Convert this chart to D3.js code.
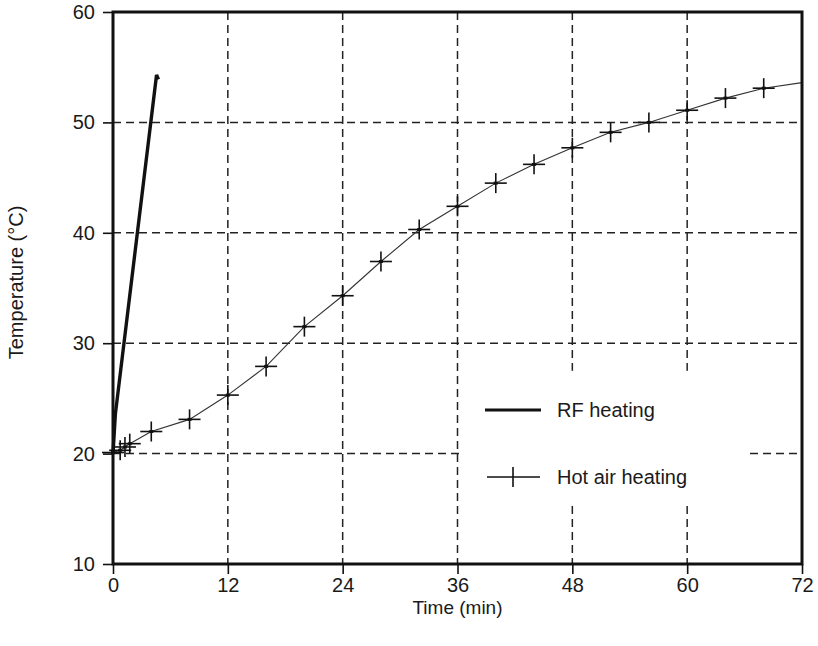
<!DOCTYPE html>
<html>
<head>
<meta charset="utf-8">
<script src="https://cdn.jsdelivr.net/npm/d3@7"></script>
<style>
  html, body { margin: 0; padding: 0; background: #fff; }
  svg { display: block; font-family: "Liberation Sans", Arial, Helvetica, sans-serif; }
</style>
</head>
<body>
<svg id="chart" width="818" height="646"></svg>
<script>
// ---- data ----
const xTicks = [0, 12, 24, 36, 48, 60, 72];
const yTicks = [10, 20, 30, 40, 50, 60];

const hotAirTime = [0, 0.75, 1.25, 1.75, 4, 8, 12, 16, 20, 24, 28, 32, 36, 40, 44, 48, 52, 56, 60, 64, 68, 72];
const hotAirTemp = [20.1, 20.3, 20.6, 20.9, 22.0, 23.1, 25.3, 27.9, 31.5, 34.3, 37.4, 40.3, 42.4, 44.5, 46.2, 47.7, 49.1, 50.0, 51.1, 52.2, 53.1, 53.6];

const rfTime = [0, 0.25, 4.55, 4.75];
const rfTemp = [20.0, 23.6, 54.3, 53.9];

const legendLabels = ["RF heating", "Hot air heating"];
const xLabel = "Time (min)";
const yLabel = "Temperature (\u00B0C)";

// ---- layout ----
const W = 818, H = 646;
const margin = { left: 113, top: 12, right: 16, bottom: 82 };
const iw = W - margin.left - margin.right;
const ih = H - margin.top - margin.bottom;

const svg = d3.select("#chart");
const g = svg.append("g").attr("transform", `translate(${margin.left},${margin.top})`);

const x = d3.scaleLinear().domain([0, 72]).range([0, iw]);
const y = d3.scaleLinear().domain([10, 60]).range([ih, 0]);

// grid lines
const dash = "8,5";
g.append("g").selectAll("line.h")
  .data(yTicks.filter(v => v > 10 && v < 60))
  .join("line")
  .attr("x1", 0).attr("x2", iw)
  .attr("y1", d => y(d)).attr("y2", d => y(d))
  .attr("stroke", "#222").attr("stroke-width", 1.5).attr("stroke-dasharray", dash);
g.append("g").selectAll("line.v")
  .data(xTicks.filter(v => v > 0 && v < 72))
  .join("line")
  .attr("y1", 0).attr("y2", ih)
  .attr("x1", d => x(d)).attr("x2", d => x(d))
  .attr("stroke", "#222").attr("stroke-width", 1.5).attr("stroke-dasharray", dash);

// legend background (masks grid)
const lgX = x(36) + 3, lgY = y(27.5);
g.append("rect")
  .attr("x", lgX).attr("y", lgY)
  .attr("width", 750 - margin.left - lgX).attr("height", 132)
  .attr("fill", "#fff");

// hot air line
const hot = hotAirTime.map((t, i) => ({ t, v: hotAirTemp[i] }));
const line = d3.line().x(d => x(d.t)).y(d => y(d.v));
g.append("path").datum(hot)
  .attr("d", line).attr("fill", "none")
  .attr("stroke", "#333").attr("stroke-width", 1.1);

// cross markers
const cs = 10;
const marks = g.append("g").selectAll("g.m")
  .data(hot.filter(d => d.t < 72))
  .join("g")
  .attr("transform", d => `translate(${x(d.t)},${y(d.v)})`);
marks.append("line").attr("x1", -cs - 1).attr("x2", cs + 1).attr("y1", 0).attr("y2", 0)
  .attr("stroke", "#111").attr("stroke-width", 1.6);
marks.append("line").attr("x1", 0).attr("x2", 0).attr("y1", -cs).attr("y2", cs)
  .attr("stroke", "#111").attr("stroke-width", 1.6);
marks.append("rect").attr("x", -2).attr("y", -1.5).attr("width", 4).attr("height", 3).attr("fill", "#111");

// RF line
const rf = rfTime.map((t, i) => ({ t, v: rfTemp[i] }));
g.append("path").datum(rf)
  .attr("d", line).attr("fill", "none")
  .attr("stroke", "#111").attr("stroke-width", 3.4)
  .attr("stroke-linejoin", "bevel");

// frame
g.append("rect").attr("x", 0).attr("y", 0).attr("width", iw).attr("height", ih)
  .attr("fill", "none").attr("stroke", "#111").attr("stroke-width", 3);

// axes ticks + labels
const yAxis = d3.axisLeft(y).tickValues(yTicks).tickSize(10).tickPadding(8);
const yg = g.append("g").call(yAxis);
const xAxis = d3.axisBottom(x).tickValues(xTicks).tickSize(10).tickPadding(4);
const xg = g.append("g").attr("transform", `translate(0,${ih})`).call(xAxis);
[yg, xg].forEach(a => {
  a.select(".domain").remove();
  a.selectAll(".tick line").attr("stroke", "#111").attr("stroke-width", 1.6);
  a.selectAll(".tick text").attr("fill", "#1a1a1a")
    .style("font-size", "20px").style("font-family", "'Liberation Sans', Arial, sans-serif");
});

// axis titles
svg.append("text")
  .attr("x", margin.left + x(36)).attr("y", 614)
  .attr("text-anchor", "middle").attr("fill", "#1a1a1a")
  .style("font-size", "19px")
  .text(xLabel);
svg.append("text")
  .attr("transform", `translate(23,${margin.top + y(35.5)}) rotate(-90)`)
  .attr("text-anchor", "middle").attr("fill", "#1a1a1a")
  .style("font-size", "20px")
  .text(yLabel);

// legend
const lg = svg.append("g");
lg.append("line").attr("x1", 485).attr("x2", 541).attr("y1", 410).attr("y2", 410)
  .attr("stroke", "#111").attr("stroke-width", 3.2);
lg.append("text").attr("x", 557).attr("y", 417).attr("fill", "#1a1a1a")
  .style("font-size", "20px").text(legendLabels[0]);
lg.append("line").attr("x1", 487).attr("x2", 540).attr("y1", 477).attr("y2", 477)
  .attr("stroke", "#111").attr("stroke-width", 1.3);
lg.append("line").attr("x1", 513).attr("x2", 513).attr("y1", 467).attr("y2", 487)
  .attr("stroke", "#111").attr("stroke-width", 1.6);
lg.append("text").attr("x", 557).attr("y", 484).attr("fill", "#1a1a1a")
  .style("font-size", "20px").text(legendLabels[1]);
</script>
</body>
</html>
